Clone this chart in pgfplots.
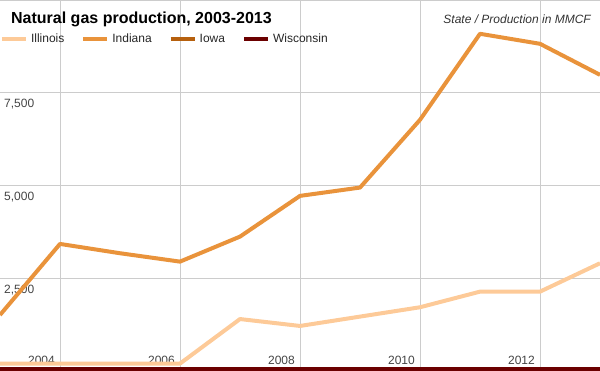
\documentclass[border=0pt]{standalone}
\usepackage{pgfplots}
\pgfplotsset{compat=1.18}
\usepackage{fontspec}
\setmainfont{Liberation Sans}
\definecolor{cIll}{HTML}{FDCA98}
\definecolor{cInd}{HTML}{E9933B}
\definecolor{cIow}{HTML}{B6600E}
\definecolor{cWis}{HTML}{6B0000}
\definecolor{gridc}{HTML}{CCCCCC}
\definecolor{tickc}{HTML}{444444}
\begin{document}
\begin{tikzpicture}
\begin{axis}[
  name=ax,
  scale only axis,
  width=600pt, height=371pt,
  xmin=2003, xmax=2013, ymin=0, ymax=10000,
  scaled x ticks=false, scaled y ticks=false,
  clip=false,
  axis line style={draw=none},
  major tick length=0pt,
  grid=major,
  major grid style={gridc, line width=0.8pt},
  xtick={2004,2006,2008,2010,2012},
  xticklabels={2004,2006,2008,2010,2012},
  xticklabel style={anchor=south east, inner sep=0pt, xshift=-5pt, yshift=6pt, text=tickc, font=\fontsize{12}{14}\selectfont},
  ytick={2500,5000,7500},
  yticklabels={{2,500},{5,000},{7,500}},
  yticklabel style={anchor=north west, inner sep=0pt, xshift=4pt, yshift=-6.5pt, text=tickc, font=\fontsize{12}{14}\selectfont},
  legend columns=-1,
  legend image code/.code={\draw[#1, line width=4pt] (0pt,0pt) -- (24pt,0pt);},
  legend style={at={(axis description cs:0,0.8949)}, anchor=west, draw=none, fill=none,
    inner sep=0pt, outer sep=0pt, font=\fontsize{12}{14}\selectfont, text=black!85,
    /tikz/every odd column/.append style={column sep=1pt},
    /tikz/every even column/.append style={column sep=15pt}},
  legend cell align=left,
]
\draw[gridc, line width=0.8pt] (axis description cs:0,1) -- (axis description cs:1,1);
\addplot[cIll, line width=4pt, line join=round] coordinates {
(2003,200) (2004,200) (2005,200) (2006,200) (2007,1400) (2008,1214) (2009,1466) (2010,1718) (2011,2139) (2012,2139) (2013,2904)};
\addlegendentry{Illinois}
\addplot[cInd, line width=4pt, line join=round] coordinates {
(2003,1510) (2004,3425) (2005,3174) (2006,2948) (2007,3622) (2008,4720) (2009,4944) (2010,6770) (2011,9089) (2012,8819) (2013,7983)};
\addlegendentry{Indiana}
\addplot[cIow, line width=7pt] coordinates {
(2003,0) (2004,0) (2005,0) (2006,0) (2007,0) (2008,0) (2009,0) (2010,0) (2011,0) (2012,0) (2013,0)};
\addlegendentry{Iowa}
\addplot[cWis, line width=7pt] coordinates {
(2003,0) (2004,0) (2005,0) (2006,0) (2007,0) (2008,0) (2009,0) (2010,0) (2011,0) (2012,0) (2013,0)};
\addlegendentry{Wisconsin}
\node[anchor=base west, inner sep=0pt, font=\bfseries\fontsize{16}{19}\selectfont] at (axis description cs:0.01833,0.9353) {Natural gas production, 2003-2013};
\node[anchor=base east, inner sep=0pt, font=\itshape\fontsize{12}{14}\selectfont, text=black!80] at (axis description cs:0.985,0.9353) {State / Production in MMCF};
\end{axis}
\pgfresetboundingbox
\useasboundingbox (ax.south west) rectangle (ax.north east);
\end{tikzpicture}
\end{document}
